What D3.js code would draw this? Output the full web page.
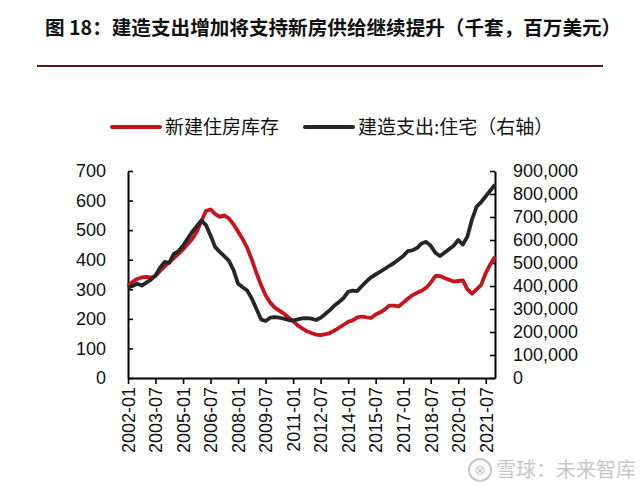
<!DOCTYPE html>
<html><head><meta charset="utf-8">
<script src="https://cdn.jsdelivr.net/npm/d3@7"></script>
<style>
body{margin:0;background:#fff;}
svg{display:block;}
</style></head>
<body>
<svg id="c" width="640" height="494"></svg>
<script>
const title = "图 18：建造支出增加将支持新房供给继续提升（千套，百万美元）";
const seriesNames = ["新建住房库存", "建造支出:住宅（右轴）"];
const tickLabels = ["2002-01","2003-07","2005-01","2006-07","2008-01","2009-07","2011-01","2012-07","2014-01","2015-07","2017-01","2018-07","2020-01","2021-07"];
const leftTicks = [0,100,200,300,400,500,600,700];
const rightTicks = [0,100000,200000,300000,400000,500000,600000,700000,800000,900000];

// quarterly observations, 2002-01 .. 2022-01
const dates = ["2002-01","2002-04","2002-07","2002-10","2003-01","2003-04","2003-07","2003-10",
"2004-01","2004-04","2004-07","2004-10","2005-01","2005-04","2005-07","2005-10",
"2006-01","2006-04","2006-07","2006-10","2007-01","2007-04","2007-07","2007-10",
"2008-01","2008-04","2008-07","2008-10","2009-01","2009-04","2009-07","2009-10",
"2010-01","2010-04","2010-07","2010-10","2011-01","2011-04","2011-07","2011-10",
"2012-01","2012-04","2012-07","2012-10","2013-01","2013-04","2013-07","2013-10",
"2014-01","2014-04","2014-07","2014-10","2015-01","2015-04","2015-07","2015-10",
"2016-01","2016-04","2016-07","2016-10","2017-01","2017-04","2017-07","2017-10",
"2018-01","2018-04","2018-07","2018-10","2019-01","2019-04","2019-07","2019-10",
"2020-01","2020-04","2020-07","2020-10","2021-01","2021-04","2021-07","2021-10","2022-01"];
const inventory = [312,325,335,340,342,340,345,362,378,392,405,420,435,452,470,495,
530,565,570,555,545,550,540,520,495,470,440,400,355,315,280,255,
238,228,218,205,192,178,168,158,152,147,145,148,152,160,170,180,
190,195,205,208,205,203,215,222,232,245,245,242,255,268,280,288,
295,305,322,345,345,338,332,326,328,330,300,285,300,315,355,385,410];
const spending = [392000,400000,410000,402000,415000,428000,445000,480000,505000,500000,540000,552000,
575000,605000,635000,660000,685000,665000,620000,570000,548000,530000,510000,470000,
410000,395000,380000,345000,300000,255000,248000,262000,265000,262000,258000,252000,
250000,255000,259000,260000,258000,252000,262000,278000,295000,315000,330000,348000,
375000,380000,378000,400000,420000,438000,450000,462000,475000,488000,500000,515000,
530000,552000,555000,565000,585000,592000,575000,545000,530000,545000,560000,575000,
600000,580000,615000,690000,745000,765000,790000,815000,840000];

const parse = d3.timeParse("%Y-%m");
const svg = d3.select("#c");
svg.append("rect").attr("width",640).attr("height",494).attr("fill","#fff");

const cjk = "'Noto Sans CJK SC','Noto Sans',sans-serif";
const lat = "'Liberation Sans',Arial,sans-serif";

svg.append("text").attr("x",45).attr("y",35).attr("font-family",cjk).attr("font-size",19.6)
  .attr("font-weight","bold").attr("fill","#111").text(title);
svg.append("line").attr("x1",37).attr("x2",603).attr("y1",66).attr("y2",66)
  .attr("stroke","#5c1a1a").attr("stroke-width",2);

const L=128, R=495, T=171, B=378;
const x = d3.scaleTime().domain([parse("2002-01"), parse("2022-01")]).range([L,R]);
const yL = d3.scaleLinear().domain([0,700]).range([B,T]);
const yR = d3.scaleLinear().domain([0,900000]).range([B,T]);

const colors = ["#c8121c","#262626"];

// legend
const lg = svg.append("g");
[[112,165],[305,358]].forEach((p,i)=>{
  lg.append("line").attr("x1",p[0]).attr("x2",p[0]+48).attr("y1",127).attr("y2",127)
    .attr("stroke",colors[i]).attr("stroke-width",4).attr("stroke-linecap","round");
  lg.append("text").attr("x",p[1]).attr("y",127).attr("dy","0.36em").attr("font-family",cjk)
    .attr("font-size",19).attr("fill","#111").text(seriesNames[i]);
});

// axes
const axL = d3.axisLeft(yL).tickValues(leftTicks).tickSizeInner(-5).tickSizeOuter(0).tickPadding(22);
const axR = d3.axisRight(yR).tickValues(rightTicks).tickSizeInner(-5).tickSizeOuter(0).tickPadding(18)
  .tickFormat(d3.format(","));
const axB = d3.axisBottom(x).tickValues(tickLabels.map(parse)).tickSizeInner(6).tickSizeOuter(0)
  .tickFormat(d3.timeFormat("%Y-%m"));

function style(g){
  g.select(".domain").attr("stroke","#000").attr("stroke-width",2);
  g.selectAll(".tick line").attr("stroke","#000").attr("stroke-width",1.6);
  g.selectAll("text").attr("font-family",lat).attr("font-size",18).attr("fill","#111");
}
svg.append("g").attr("transform",`translate(${L},0)`).call(axL).call(style);
svg.append("g").attr("transform",`translate(${R},0)`).call(axR).call(style);
const gb = svg.append("g").attr("transform",`translate(0,${B})`).call(axB).call(style);
gb.selectAll(".tick text").attr("transform","rotate(-90)").attr("text-anchor","end")
  .attr("x",-9).attr("y",0).attr("dy","0.35em");

// lines
const data = dates.map((d,i)=>({t:parse(d), a:inventory[i], b:spending[i]}));
svg.append("path").datum(data).attr("fill","none").attr("stroke",colors[0]).attr("stroke-width",3.8)
  .attr("stroke-linejoin","round")
  .attr("d", d3.line().x(d=>x(d.t)).y(d=>yL(d.a)));
svg.append("path").datum(data).attr("fill","none").attr("stroke",colors[1]).attr("stroke-width",3.8)
  .attr("stroke-linejoin","round")
  .attr("d", d3.line().x(d=>x(d.t)).y(d=>yR(d.b)));

// watermark
const wm = svg.append("g").attr("opacity",0.55);
wm.append("circle").attr("cx",480).attr("cy",470).attr("r",11).attr("fill","none").attr("stroke","#999").attr("stroke-width",2);
wm.append("text").attr("x",480).attr("y",470).attr("dy","0.35em").attr("text-anchor","middle")
  .attr("font-family",lat).attr("font-size",14).attr("fill","#999").text("⊗");
wm.append("text").attr("x",496).attr("y",470).attr("dy","0.36em").attr("font-family",cjk)
  .attr("font-size",20).attr("fill","#999").text("雪球：未来智库");
</script>
</body></html>
